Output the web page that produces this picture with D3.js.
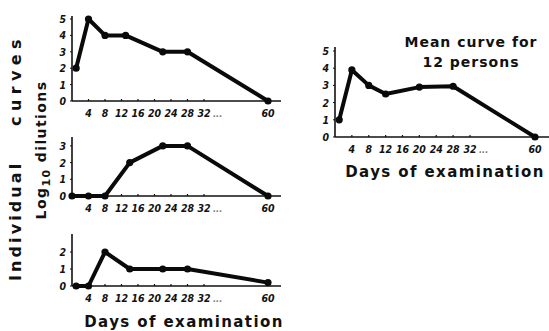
<!DOCTYPE html>
<html>
<head>
<meta charset="utf-8">
<script src="https://cdn.jsdelivr.net/npm/d3@7"></script>
<style>
  body { margin: 0; background: #fff; }
  .tick-label { font-family: "Liberation Sans Narrow", "DejaVu Sans Condensed", sans-serif; font-style: italic; font-weight: bold; font-size: 10.5px; fill: #111; }
  .title { font-family: "DejaVu Sans", sans-serif; font-weight: bold; fill: #111; }
</style>
</head>
<body>
<div id="chart"></div>
<script>
// --- Data ---
const X_TICKS = [4, 8, 12, 16, 20, 24, 28, 32, 60];
const X_BREAK = [0, 32, 60];

const DAYS_A = [1, 4, 8, 13, 22, 28, 60];
const VALS_A = [2, 5, 4, 4, 3, 3, 0];

const DAYS_B = [0, 4, 8, 14, 22, 28, 60];
const VALS_B = [0, 0, 0, 2, 3, 3, 0];

const DAYS_C = [1, 4, 8, 14, 22, 28, 60];
const VALS_C = [0, 0, 2, 1, 1, 1, 0.2];

const DAYS_MEAN = [1, 4, 8, 12, 20, 28, 60];
const VALS_MEAN = [1, 3.9, 3, 2.5, 2.9, 2.95, 0];

// --- Panels (layout) ---
const panels = [
    { days: DAYS_A, vals: VALS_A, x: [72, 204, 268], axisEnd: 281, y0: 101, unit: 16.4, yMax: 5, top: 16 },
    { days: DAYS_B, vals: VALS_B, x: [72, 204, 268], axisEnd: 281, y0: 196, unit: 16.7, yMax: 3, top: 137 },
    { days: DAYS_C, vals: VALS_C, x: [72, 204, 268], axisEnd: 281, y0: 286, unit: 17, yMax: 2, top: 234 },
    { days: DAYS_MEAN, vals: VALS_MEAN, x: [335, 470, 535], axisEnd: 549, y0: 137, unit: 17.2, yMax: 5, top: 47 }
];

const W = 549, H = 331;
const svg = d3.select('#chart').append('svg')
    .attr('width', W).attr('height', H);

panels.forEach(p => {
    const g = svg.append('g');
    const xScale = d3.scaleLinear().domain(X_BREAK).range(p.x);
    const yScale = d3.scaleLinear().domain([0, 1]).range([p.y0, p.y0 - p.unit]);
    const x0 = xScale(0);

    // Axes
    g.append('line').attr('x1', x0).attr('x2', p.axisEnd).attr('y1', p.y0).attr('y2', p.y0)
        .attr('stroke', '#111').attr('stroke-width', 1.6);
    g.append('line').attr('x1', x0).attr('x2', x0).attr('y1', p.top).attr('y2', p.y0)
        .attr('stroke', '#111').attr('stroke-width', 1.6);

    // X ticks
    X_TICKS.forEach(t => {
        const x = xScale(t);
        g.append('line').attr('x1', x).attr('x2', x).attr('y1', p.y0 - 2).attr('y2', p.y0)
            .attr('stroke', '#111').attr('stroke-width', 1.2);
        g.append('text').attr('class', 'tick-label').attr('x', x).attr('y', p.y0 + 16)
            .attr('text-anchor', 'middle').text(t);
    });
    g.append('text').attr('class', 'tick-label').attr('x', xScale(32) + 9).attr('y', p.y0 + 16)
        .style('font-size', '9px').style('fill', '#777').text('...');

    // Y ticks
    d3.range(0, p.yMax + 1).forEach(v => {
        const y = yScale(v);
        g.append('line').attr('x1', x0 - 2).attr('x2', x0).attr('y1', y).attr('y2', y)
            .attr('stroke', '#111').attr('stroke-width', 1);
        g.append('text').attr('class', 'tick-label').attr('x', x0 - 6).attr('y', y + 4)
            .attr('text-anchor', 'end').text(v);
    });

    // Curve
    const pts = p.days.map((d, i) => [xScale(d), yScale(p.vals[i])]);
    g.append('path').datum(pts)
        .attr('d', d3.line())
        .attr('fill', 'none').attr('stroke', '#0a0a0a')
        .attr('stroke-width', 4).attr('stroke-linejoin', 'round').attr('stroke-linecap', 'round');
    g.selectAll('circle').data(pts).join('circle')
        .attr('cx', d => d[0]).attr('cy', d => d[1]).attr('r', 3.6).attr('fill', '#0a0a0a');
});

// --- Titles ---
svg.append('text').attr('class', 'title').attr('x', 184).attr('y', 327)
    .attr('text-anchor', 'middle').style('font-size', '15px').style('letter-spacing', '1.4px')
    .text('Days of examination');
svg.append('text').attr('class', 'title').attr('x', 445).attr('y', 177)
    .attr('text-anchor', 'middle').style('font-size', '15px').style('letter-spacing', '1.4px')
    .text('Days of examination');
svg.append('text').attr('class', 'title').attr('x', 471).attr('y', 47)
    .attr('text-anchor', 'middle').style('font-size', '14px').style('letter-spacing', '1px')
    .text('Mean curve for');
svg.append('text').attr('class', 'title').attr('x', 471).attr('y', 67)
    .attr('text-anchor', 'middle').style('font-size', '14px').style('letter-spacing', '1px')
    .text('12 persons');

// Rotated y titles
svg.append('text').attr('class', 'title')
    .attr('transform', 'translate(21,281) rotate(-90)')
    .style('font-size', '16px').style('letter-spacing', '3.1px')
    .text('Individual');
svg.append('text').attr('class', 'title')
    .attr('transform', 'translate(21,126) rotate(-90)')
    .style('font-size', '16px').style('letter-spacing', '5.4px')
    .text('curves');

const logT = svg.append('text').attr('class', 'title')
    .attr('transform', 'translate(46,150) rotate(-90)')
    .attr('text-anchor', 'middle').style('font-size', '14px').style('letter-spacing', '1.4px');
logT.append('tspan').text('Log');
logT.append('tspan').attr('dy', 4).style('font-size', '11px').text('10');
logT.append('tspan').attr('dy', -4).text(' dilutions');
</script>
</body>
</html>
